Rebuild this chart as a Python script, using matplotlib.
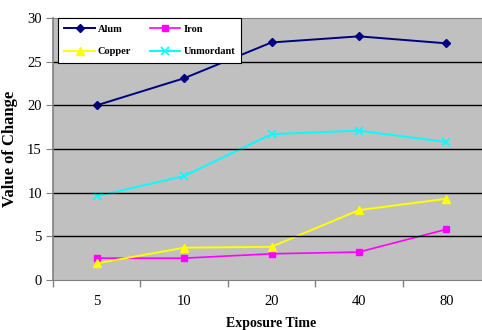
import matplotlib
matplotlib.use("Agg")
import matplotlib.pyplot as plt

categories = ["5", "10", "20", "40", "80"]
alum = [20.0, 23.1, 27.2, 27.9, 27.1]
iron = [2.5, 2.5, 3.0, 3.2, 5.8]
copper = [1.9, 3.7, 3.8, 8.0, 9.3]
unmordant = [9.6, 11.9, 16.7, 17.1, 15.8]
y_ticks = [0, 5, 10, 15, 20, 25, 30]

plt.rcParams["font.family"] = ["Liberation Serif", "DejaVu Serif"]

fig = plt.figure(figsize=(4.82, 3.30), dpi=100)
W, H = 482, 330
left, right, top, bottom = 53, 490, 18, 280
ax = fig.add_axes([left / W, 1 - bottom / H, (right - left) / W, (bottom - top) / H])
ax.set_facecolor("#c0c0c0")

x = list(range(len(categories)))
h_alum, = ax.plot(x, alum, color="#000080", marker="D", markersize=4, lw=1.4, label="Alum")
h_iron, = ax.plot(x, iron, color="#ff00ff", marker="s", markersize=5, lw=1.2, label="Iron")
h_copper, = ax.plot(x, copper, color="#ffff00", marker="^", markersize=6, lw=1.4, label="Copper")
h_unm, = ax.plot(x, unmordant, color="#00ffff", marker="x", markersize=6, mew=1.2, lw=1.4, label="Unmordant")

ax.set_xlim(-0.5, len(categories) - 0.5)
ax.set_ylim(0, 30)
ax.set_yticks(y_ticks)
ax.set_xticks(x)
ax.set_xticklabels(categories)
ax.set_xticks([i + 0.5 for i in range(-1, len(categories))], minor=True)
ax.tick_params(axis="x", which="major", length=0, pad=11, labelsize=10.5)
ax.tick_params(axis="x", which="minor", length=5, color="#808080", width=1)
ax.tick_params(axis="y", length=5, color="#808080", labelsize=10.5, pad=3)

for v in y_ticks[1:-1]:
    ax.axhline(v, color="black", lw=1)

for side in ["top", "left", "bottom"]:
    ax.spines[side].set_color("#808080")
ax.spines["left"].set_linewidth(1.2)
ax.spines["right"].set_visible(False)

ax.set_xlabel("Exposure Time", fontsize=10, fontweight="bold", labelpad=6)
ax.set_ylabel("Value of Change", fontsize=12, fontweight="bold", labelpad=2)
ax.yaxis.set_label_coords(-35 / (right - left), 0.5)

leg = ax.legend([h_alum, h_copper, h_iron, h_unm],
                ["Alum", "Copper", "Iron", "Unmordant"],
                ncol=2, loc="upper left", bbox_to_anchor=(0.012, 1.0),
                fontsize=7.5, frameon=True, fancybox=False, edgecolor="black",
                framealpha=1, borderaxespad=0, handlelength=2.9, columnspacing=1.8,
                labelspacing=1.3, handletextpad=0.3, borderpad=0.6)
for t in leg.get_texts():
    t.set_fontweight("bold")
leg.get_frame().set_linewidth(0.8)

fig.savefig("out.png", dpi=100)
